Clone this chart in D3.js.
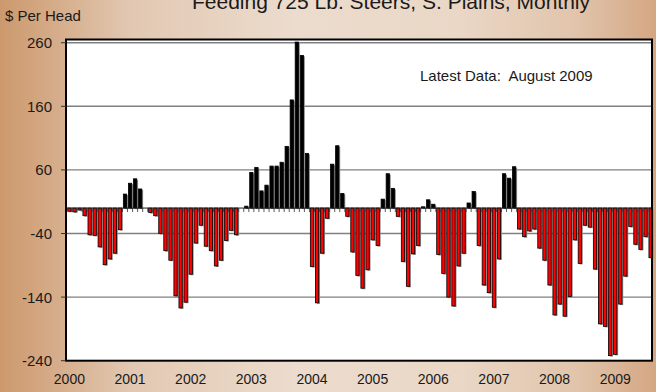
<!DOCTYPE html>
<html>
<head>
<meta charset="utf-8">
<script src="https://cdn.jsdelivr.net/npm/d3@7/dist/d3.min.js"></script>
<style>
  html, body { margin: 0; padding: 0; background: #fff; }
  svg { display: block; }
  text { font-family: "Liberation Sans", Arial, Helvetica, sans-serif; fill: #1a1a1a; }
</style>
</head>
<body>
<svg id="chart" width="656" height="392"></svg>
<script>
// Monthly feeding returns, $ per head, 725 lb. steers, Southern Plains
const years = ["2000", "2001", "2002", "2003", "2004", "2005", "2006", "2007", "2008", "2009"];
const returns2000 = [-5, -6, -3, -12, -42, -43, -61, -89, -80, -71, -34, 22];
const returns2001 = [39, 46, 30, 0, -7, -12, -40, -67, -82, -138, -157, -148];
const returns2002 = [-104, -55, -27, -60, -67, -91, -82, -51, -35, -42, 0, 3];
const returns2003 = [56, 64, 27, 36, 66, 66, 72, 97, 170, 261, 240, 86];
const returns2004 = [-92, -149, -71, -16, 69, 98, 23, -13, -69, -106, -126, -97];
const returns2005 = [-50, -59, 14, 54, 31, -13, -84, -123, -72, -59, 2, 13];
const returns2006 = [6, -73, -103, -140, -154, -91, -71, 8, 26, -59, -121, -133];
const returns2007 = [-156, -80, 54, 47, 65, -33, -45, -36, -33, -63, -82, -121];
const returns2008 = [-168, -151, -170, -139, -50, -87, -27, -30, -96, -182, -186, -232];
const returns2009 = [-230, -151, -107, -29, -57, -65, -45, -78];
const yTicks = [260, 160, 60, -40, -140, -240];

const values = [].concat(returns2000, returns2001, returns2002, returns2003, returns2004,
                         returns2005, returns2006, returns2007, returns2008, returns2009);
const months = years.flatMap(y => d3.range(12).map(m => y + "-" + String(m + 1).padStart(2, "0")))
                    .slice(0, values.length);
const data = months.map((m, i) => ({ month: m, value: values[i] }));

const svg = d3.select("#chart");
const W = 656, H = 392;
const plot = { left: 66, right: 652, top: 39.5, bottom: 360.7 };

// Background: warm tan gradient
const defs = svg.append("defs");
const bg = defs.append("linearGradient").attr("id", "bgGrad").attr("x1", 0).attr("x2", 1).attr("y1", 0).attr("y2", 0);
[[0, "#cc996d"], [0.08, "#d5ab88"], [0.2, "#e2c8b2"], [0.45, "#ecdccd"], [0.7, "#ead7c6"], [0.88, "#e1c4ab"], [1, "#d4a783"]]
  .forEach(([o, c]) => bg.append("stop").attr("offset", o).attr("stop-color", c));
svg.append("rect").attr("width", W).attr("height", H).attr("fill", "url(#bgGrad)");

// Scales
const x = d3.scaleBand().domain(months).range([66, 654]).paddingInner(0.35).paddingOuter(0.35);
const y = d3.scaleLinear().domain([-240, 260]).range([360.7, 42.7]);

// Plot area
svg.append("rect")
  .attr("x", plot.left).attr("y", plot.top)
  .attr("width", plot.right - plot.left).attr("height", plot.bottom - plot.top)
  .attr("fill", "#ffffff");

// Gridlines
svg.append("g").selectAll("line").data(yTicks.filter(t => t !== -240)).join("line")
  .attr("x1", plot.left).attr("x2", plot.right)
  .attr("y1", d => y(d)).attr("y2", d => y(d))
  .attr("stroke", "#808080").attr("stroke-width", 1.4);

// Bars with drop shadow
const y0 = y(0);
const bars = svg.append("g");
bars.selectAll("rect.shadow").data(data.filter(d => d.value !== 0)).join("rect")
  .attr("class", "shadow")
  .attr("x", d => x(d.month) + 1.3)
  .attr("y", d => Math.min(y(d.value), y0) + 1)
  .attr("width", x.bandwidth())
  .attr("height", d => Math.abs(y(d.value) - y0))
  .attr("fill", "#8a8a8a");
bars.selectAll("rect.bar").data(data.filter(d => d.value !== 0)).join("rect")
  .attr("class", "bar")
  .attr("x", d => x(d.month))
  .attr("y", d => Math.min(y(d.value), y0))
  .attr("width", x.bandwidth())
  .attr("height", d => Math.abs(y(d.value) - y0))
  .attr("fill", d => d.value < 0 ? "#ff0000" : "#000000")
  .attr("stroke", "#000")
  .attr("stroke-width", 0.8);

// Category axis along zero
const step = x.step();
svg.append("g").selectAll("line").data(months).join("line")
  .attr("x1", d => x(d) - step * 0.175).attr("x2", d => x(d) - step * 0.175)
  .attr("y1", y0).attr("y2", y0 + 4)
  .attr("stroke", "#333").attr("stroke-width", 0.8);
svg.append("line")
  .attr("x1", plot.left).attr("x2", plot.right)
  .attr("y1", y0).attr("y2", y0)
  .attr("stroke", "#222").attr("stroke-width", 1);

// Plot frame
svg.append("rect")
  .attr("x", plot.left).attr("y", plot.top)
  .attr("width", plot.right - plot.left).attr("height", plot.bottom - plot.top)
  .attr("fill", "none").attr("stroke", "#000").attr("stroke-width", 2);

// Value axis
const yAxis = svg.append("g");
yAxis.selectAll("line").data(yTicks).join("line")
  .attr("x1", plot.left - 5).attr("x2", plot.left)
  .attr("y1", d => y(d)).attr("y2", d => y(d))
  .attr("stroke", "#333").attr("stroke-width", 1);
yAxis.selectAll("text").data(yTicks).join("text")
  .attr("x", 52).attr("y", d => y(d))
  .attr("dy", "0.36em")
  .attr("text-anchor", "end")
  .style("font-size", "15px")
  .text(d => d);

// Year labels under January of each year
svg.append("g").selectAll("text").data(years).join("text")
  .attr("x", d => x(d + "-01") + x.bandwidth() / 2)
  .attr("y", 384)
  .attr("text-anchor", "middle")
  .style("font-size", "14px")
  .text(d => d);

// Titles and notes
svg.append("text")
  .attr("x", 391).attr("y", 9)
  .attr("text-anchor", "middle")
  .style("font-size", "21px")
  .text("Feeding 725 Lb. Steers, S. Plains, Monthly");
svg.append("text")
  .attr("x", 5).attr("y", 21)
  .style("font-size", "15px")
  .text("$ Per Head");
svg.append("text")
  .attr("x", 420).attr("y", 81)
  .style("font-size", "15px")
  .style("white-space", "pre")
  .text("Latest Data:  August 2009");
</script>
</body>
</html>
